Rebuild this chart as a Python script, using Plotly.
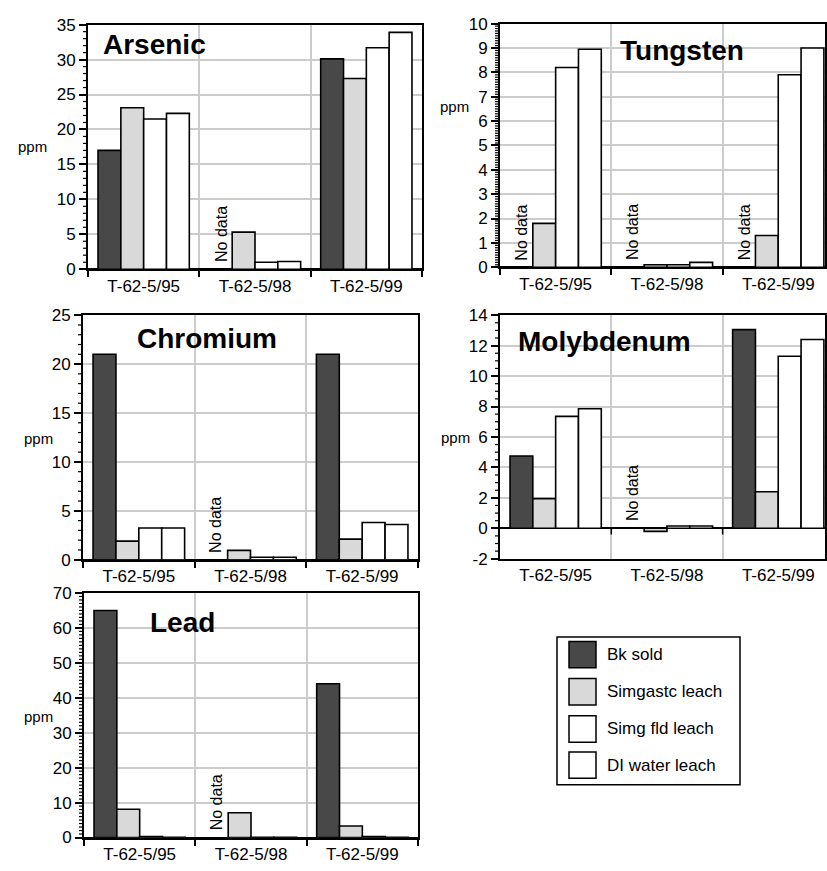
import plotly.graph_objects as go

W, H = 827, 871

categories = ["T-62-5/95", "T-62-5/98", "T-62-5/99"]
series_names = ["Bk sold", "Simgastc leach", "Simg fld leach", "DI water leach"]
series_colors = ["#484848", "#d9d9d9", "#ffffff", "#ffffff"]

# values per series, across the three categories (None = no data)
arsenic_bulk = [17.0, None, 30.1]
arsenic_gastric = [23.1, 5.3, 27.3]
arsenic_lung = [21.5, 1.0, 31.7]
arsenic_water = [22.3, 1.1, 33.9]

tungsten_bulk = [None, None, None]
tungsten_gastric = [1.8, 0.1, 1.3]
tungsten_lung = [8.2, 0.1, 7.9]
tungsten_water = [8.95, 0.2, 9.0]

chromium_bulk = [21.0, None, 21.0]
chromium_gastric = [1.9, 0.95, 2.1]
chromium_lung = [3.25, 0.25, 3.8]
chromium_water = [3.25, 0.25, 3.6]

molybdenum_bulk = [4.75, None, 13.05]
molybdenum_gastric = [1.95, -0.2, 2.4]
molybdenum_lung = [7.35, 0.15, 11.3]
molybdenum_water = [7.85, 0.15, 12.4]

lead_bulk = [65.0, None, 44.0]
lead_gastric = [8.1, 7.1, 3.3]
lead_lung = [0.3, 0.1, 0.3]
lead_water = [0.1, 0.1, 0.1]

FONT = "Liberation Sans, Arial, sans-serif"


def py(p):
    return 1 - p / H


def px(p):
    return p / W


panels = [
    dict(title="Arsenic", values=[arsenic_bulk, arsenic_gastric, arsenic_lung, arsenic_water],
         x0=88, x1=422, xend=2.5, ytop=16, ybot=266, yrange=[0, 35], dtick=5, minor=1,
         nodata=[1], tpos=(0.198, 0.92), ppm=(32, 141)),
    dict(title="Tungsten", values=[tungsten_bulk, tungsten_gastric, tungsten_lung, tungsten_water],
         x0=500, x1=825, xend=2.42, ytop=15, ybot=264, yrange=[0, 10], dtick=1, minor=0.1,
         nodata=[0, 1, 2], tpos=(0.56, 0.89), ppm=(454, 100)),
    dict(title="Chromium", values=[chromium_bulk, chromium_gastric, chromium_lung, chromium_water],
         x0=83, x1=418, xend=2.5, ytop=313, ybot=563, yrange=[0, 25], dtick=5, minor=1,
         nodata=[1], tpos=(0.371, 0.904), ppm=(38, 439)),
    dict(title="Molybdenum", values=[molybdenum_bulk, molybdenum_gastric, molybdenum_lung, molybdenum_water],
         x0=500, x1=825, xend=2.42, ytop=313, ybot=562, yrange=[-2, 14], dtick=2, minor=0.5,
         nodata=[1], tpos=(0.32, 0.892), ppm=(455, 438)),
    dict(title="Lead", values=[lead_bulk, lead_gastric, lead_lung, lead_water],
         x0=84, x1=418, xend=2.5, ytop=597, ybot=847, yrange=[0, 70], dtick=10, minor=1,
         nodata=[1], tpos=(0.296, 0.88), ppm=(38, 723)),
]

fig = go.Figure()
annotations = []
shapes = []

for i, p in enumerate(panels):
    n = "" if i == 0 else str(i + 1)
    xa, ya = "x" + n, "y" + n
    for s in range(4):
        fig.add_trace(go.Bar(
            x=categories, y=p["values"][s], name=series_names[s],
            marker=dict(color=series_colors[s], line=dict(color="black", width=1.6)),
            xaxis=xa, yaxis=ya, showlegend=False,
            offsetgroup=str(s),
        ))
    lo, hi = p["yrange"]
    nt = int(round((hi - lo) / p["dtick"]))
    tvals = [lo + k * p["dtick"] for k in range(nt + 1)]
    fig.layout["xaxis" + n] = dict(
        domain=[px(p["x0"]), px(p["x1"])], anchor=ya,
        type="category", range=[-0.5, p["xend"]],
        showline=True, linecolor="black", linewidth=2, mirror=True,
        tickson="boundaries", ticks="outside" if lo == 0 else "",
        ticklen=6, tickwidth=1.5, tickcolor="black",
        showgrid=True, gridcolor="#cccccc", gridwidth=1.5,
        tickfont=dict(family=FONT, size=17, color="black"),
        fixedrange=True,
    )
    fig.layout["yaxis" + n] = dict(
        domain=[py(p["ybot"]), py(p["ytop"])], anchor=xa,
        range=p["yrange"], tickmode="array", tickvals=tvals,
        ticktext=["%g" % v for v in tvals],
        showline=True, linecolor="black", linewidth=2, mirror=True,
        ticks="outside", ticklen=7, tickwidth=1.5, tickcolor="black",
        showgrid=True, gridcolor="#cccccc", gridwidth=1.5,
        zeroline=True, zerolinecolor="black", zerolinewidth=2,
        tickfont=dict(family=FONT, size=17, color="black"),
        fixedrange=True,
    )
    # minor ticks along the left axis (axis decoration, placed on the page so they are not clipped)
    nm = int(round((hi - lo) / p["minor"]))
    per = int(round(p["dtick"] / p["minor"]))
    for k in range(nm + 1):
        if k % per == 0:
            continue
        frac = k / nm
        ypix = p["ybot"] - frac * (p["ybot"] - p["ytop"])
        shapes.append(dict(type="line", xref="paper", yref="paper",
                           x0=px(p["x0"] - 5), x1=px(p["x0"]),
                           y0=py(ypix), y1=py(ypix),
                           line=dict(color="black", width=1.2), layer="above"))
    # panel title
    annotations.append(dict(
        text="<b>%s</b>" % p["title"], xref=xa + " domain", yref=ya + " domain",
        x=p["tpos"][0], y=p["tpos"][1], xanchor="center", yanchor="middle",
        showarrow=False, font=dict(family=FONT, size=28, color="black"),
    ))
    # ppm label
    annotations.append(dict(
        text="ppm", xref="paper", yref="paper", x=px(p["ppm"][0]), y=py(p["ppm"][1]),
        xanchor="center", yanchor="middle",
        showarrow=False, font=dict(family=FONT, size=15, color="black"),
    ))
    # "No data" markers at the missing bulk-solid bar
    for c in p["nodata"]:
        annotations.append(dict(
            text="No data", xref=xa, yref=ya, x=c - 0.3075, y=0,
            textangle=-90, xanchor="center", yanchor="bottom", yshift=5,
            showarrow=False, font=dict(family=FONT, size=16, color="black"),
        ))
    # boundary ticks on the zero line for a panel whose axis bottom is below zero
    if lo != 0:
        for b in [0.5, 1.5]:
            shapes.append(dict(type="line", xref=xa, yref=ya, x0=b, x1=b,
                               y0=0, y1=-0.4, line=dict(color="black", width=1.5)))

# legend box drawn as shapes + text
shapes.append(dict(type="rect", xref="paper", yref="paper",
                   x0=px(557), x1=px(740), y0=py(793), y1=py(642),
                   line=dict(color="black", width=1.5), fillcolor="white"))
row_centers = [660, 698, 736, 773]
for s in range(4):
    yc = row_centers[s]
    shapes.append(dict(type="rect", xref="paper", yref="paper",
                       x0=px(569), x1=px(596), y0=py(yc + 13.5), y1=py(yc - 13.5),
                       line=dict(color="black", width=1.5), fillcolor=series_colors[s]))
    annotations.append(dict(
        text=series_names[s], xref="paper", yref="paper", x=px(605), y=py(yc),
        xanchor="left", yanchor="middle", showarrow=False,
        font=dict(family=FONT, size=17, color="black"),
    ))

fig.update_layout(
    width=W, height=H, margin=dict(l=0, r=0, t=0, b=0),
    paper_bgcolor="white", plot_bgcolor="white",
    barmode="group", bargap=0.18, bargroupgap=0,
    annotations=annotations, shapes=shapes,
    font=dict(family=FONT, color="black"),
    showlegend=False,
)

fig.write_html("out.html")
